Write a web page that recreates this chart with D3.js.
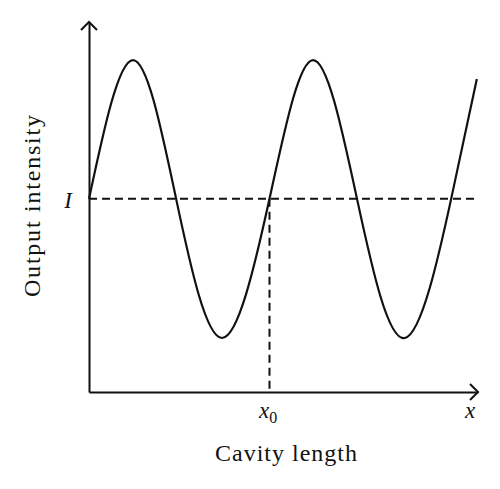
<!DOCTYPE html>
<html>
<head>
<meta charset="utf-8">
<script src="https://cdn.jsdelivr.net/npm/d3@7"></script>
<style>
  body { margin: 0; background: #fff; }
</style>
</head>
<body>
<div id="chart"></div>
<script>
// Values (arbitrary units: length 0..10, intensity 0..1)
const cavityLength = [0, 1.13, 2.24, 3.42, 4.64, 5.76, 6.89, 8.12, 9.31, 9.97];
const intensity    = [0.522, 0.897, 0.522, 0.146, 0.522, 0.897, 0.522, 0.146, 0.522, 0.846];
const levelI = 0.522;   // dashed reference level "I"
const x0 = 4.64;        // operating point on the rising slope

const width = 500, height = 489;
const margin = { top: 22, right: 22, bottom: 97, left: 89 };
const serif = "Liberation Serif";
const ink = "#111";

const svg = d3.select("#chart")
  .append("svg")
  .attr("width", width)
  .attr("height", height);

const x = d3.scaleLinear().domain([0, 10]).range([margin.left, width - margin.right]);
const y = d3.scaleLinear().domain([0, 1]).range([height - margin.bottom, margin.top]);

// Axes (no ticks, just the lines)
svg.append("g")
  .attr("transform", `translate(0,${y(0)})`)
  .call(d3.axisBottom(x).tickValues([]).tickSizeOuter(0))
  .select(".domain").attr("stroke", ink).attr("stroke-width", 2);

svg.append("g")
  .attr("transform", `translate(${x(0)},0)`)
  .call(d3.axisLeft(y).tickValues([]).tickSizeOuter(0))
  .select(".domain").attr("stroke", ink).attr("stroke-width", 2);

// Arrow heads
const ah = 8;
svg.append("path")
  .attr("d", `M${x(10) - ah},${y(0) - ah}L${x(10)},${y(0)}L${x(10) - ah},${y(0) + ah}`)
  .attr("fill", "none").attr("stroke", ink).attr("stroke-width", 2);
svg.append("path")
  .attr("d", `M${x(0) - ah},${y(1) + ah}L${x(0)},${y(1)}L${x(0) + ah},${y(1) + ah}`)
  .attr("fill", "none").attr("stroke", ink).attr("stroke-width", 2);

// Dashed guides
svg.append("line")
  .attr("x1", x(0)).attr("x2", x(10))
  .attr("y1", y(levelI)).attr("y2", y(levelI))
  .attr("stroke", ink).attr("stroke-width", 2).attr("stroke-dasharray", "8,5");

svg.append("line")
  .attr("x1", x(x0)).attr("x2", x(x0))
  .attr("y1", y(levelI)).attr("y2", y(0))
  .attr("stroke", ink).attr("stroke-width", 2).attr("stroke-dasharray", "8,5");

// Curve
const pts = cavityLength.map((d, i) => [d, intensity[i]]);
const line = d3.line()
  .x(d => x(d[0]))
  .y(d => y(d[1]))
  .curve(d3.curveNatural);

svg.append("path")
  .datum(pts)
  .attr("d", line)
  .attr("fill", "none")
  .attr("stroke", ink)
  .attr("stroke-width", 2.2);

// Labels
svg.append("text")
  .attr("x", 72).attr("y", 208)
  .attr("text-anchor", "end")
  .attr("font-family", serif)
  .attr("font-style", "italic")
  .attr("font-size", 23)
  .attr("fill", ink)
  .text("I");

const x0Label = svg.append("text")
  .attr("x", 259).attr("y", 418)
  .attr("font-family", serif)
  .attr("font-size", 23)
  .attr("fill", ink);
x0Label.append("tspan").attr("font-style", "italic").text("x");
x0Label.append("tspan").attr("dy", 5).attr("font-size", 16).text("0");

svg.append("text")
  .attr("x", 470).attr("y", 418)
  .attr("text-anchor", "middle")
  .attr("font-family", serif)
  .attr("font-style", "italic")
  .attr("font-size", 23)
  .attr("fill", ink)
  .text("x");

svg.append("text")
  .attr("x", 286).attr("y", 461)
  .attr("text-anchor", "middle")
  .attr("font-family", serif)
  .attr("font-size", 24)
  .attr("fill", ink)
  .attr("textLength", 142)
  .text("Cavity length");

svg.append("text")
  .attr("transform", "translate(40,206) rotate(-90)")
  .attr("text-anchor", "middle")
  .attr("font-family", serif)
  .attr("font-size", 24)
  .attr("fill", ink)
  .attr("textLength", 182)
  .text("Output intensity");
</script>
</body>
</html>
